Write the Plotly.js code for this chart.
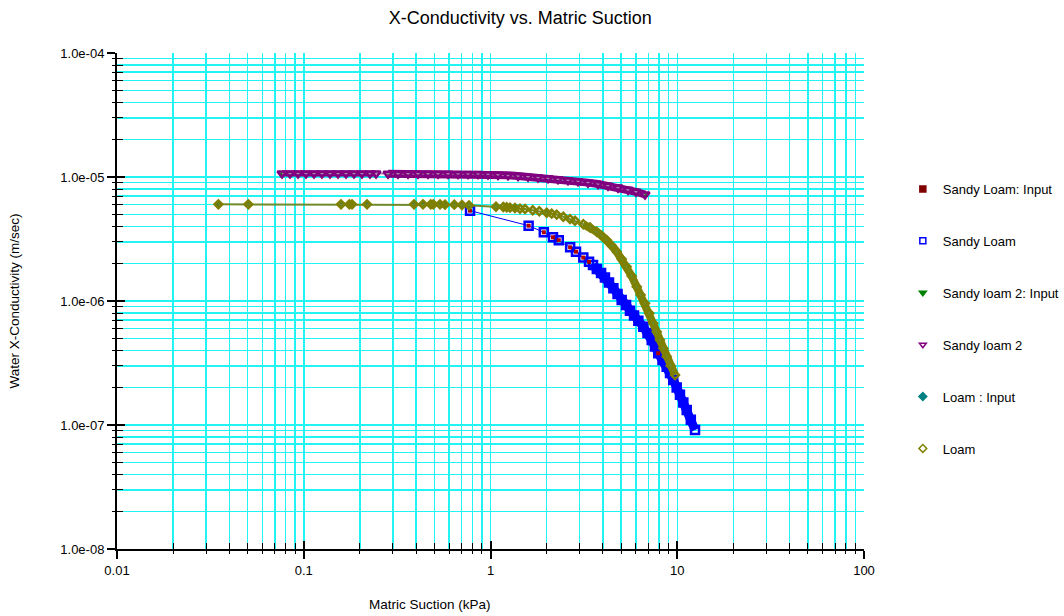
<!DOCTYPE html>
<html>
<head>
<meta charset="utf-8">
<script src="https://cdn.plot.ly/plotly-3.0.1.min.js"></script>
<style>html,body{margin:0;padding:0;background:#fff;}#chart{width:1064px;height:616px;}</style>
</head>
<body>
<div id="chart"></div>
<script>
// ---- Data ----
const seriesNames = ["Sandy Loam: Input", "Sandy Loam", "Sandy loam 2: Input", "Sandy loam 2", "Loam : Input", "Loam"];

const xSandyLoam = [0.777, 1.60, 1.93, 2.16, 2.32, 2.67, 2.87, 3.14, 3.37, 3.54, 3.71, 3.91, 4.10, 4.31, 4.55, 4.79, 5.04, 5.32, 5.58, 5.87, 6.19, 6.58, 6.93, 7.30, 7.60, 7.91, 8.34, 8.78, 9.15, 9.52, 9.93, 10.34, 10.78, 11.24, 11.82, 12.45];
const ySandyLoam = [5.35e-6, 4.05e-6, 3.58e-6, 3.26e-6, 3.09e-6, 2.71e-6, 2.50e-6, 2.24e-6, 2.07e-6, 1.95e-6, 1.81e-6, 1.68e-6, 1.55e-6, 1.41e-6, 1.27e-6, 1.14e-6, 1.02e-6, 9.28e-7, 8.35e-7, 7.64e-7, 6.94e-7, 6.21e-7, 5.52e-7, 4.85e-7, 4.29e-7, 3.79e-7, 3.34e-7, 2.95e-7, 2.63e-7, 2.31e-7, 2.01e-7, 1.75e-7, 1.52e-7, 1.32e-7, 1.10e-7, 9.1e-8];

const xSandyLoamInput = [0.777, 1.60, 1.93, 2.16, 2.32, 2.67, 2.87, 3.14, 3.37, 7.91];
const ySandyLoamInput = [5.35e-6, 4.05e-6, 3.58e-6, 3.26e-6, 3.09e-6, 2.71e-6, 2.50e-6, 2.24e-6, 2.07e-6, 3.79e-7];

const xSandyLoam2 = [0.0765, 0.0844, 0.0932, 0.1028, 0.1135, 0.1252, 0.1382, 0.1526, 0.1684, 0.1858, 0.2050, 0.2263, 0.2437, 0.2826, 0.3197, 0.3617, 0.4091, 0.4628, 0.5236, 0.5923, 0.6699, 0.7578, 0.8573, 0.9696, 1.097, 1.241, 1.404, 1.588, 1.796, 2.032, 2.298, 2.600, 2.941, 3.327, 3.763, 4.258, 4.816, 5.448, 6.013, 6.719];
const ySandyLoam2 = [1.067e-5, 1.067e-5, 1.067e-5, 1.067e-5, 1.067e-5, 1.067e-5, 1.067e-5, 1.067e-5, 1.067e-5, 1.067e-5, 1.067e-5, 1.067e-5, 1.067e-5, 1.063e-5, 1.063e-5, 1.063e-5, 1.063e-5, 1.063e-5, 1.063e-5, 1.063e-5, 1.057e-5, 1.057e-5, 1.057e-5, 1.050e-5, 1.041e-5, 1.032e-5, 1.019e-5, 1.006e-5, 9.91e-6, 9.76e-6, 9.60e-6, 9.42e-6, 9.23e-6, 9.01e-6, 8.78e-6, 8.52e-6, 8.21e-6, 7.88e-6, 7.60e-6, 7.23e-6];

const xSandyLoam2Input = [0.0765, 0.1028, 0.1382, 0.2050, 0.2826, 0.4091, 0.5923, 0.8573, 1.241, 1.796, 2.600, 3.763, 5.448, 6.719];
const ySandyLoam2Input = [1.067e-5, 1.067e-5, 1.067e-5, 1.067e-5, 1.063e-5, 1.063e-5, 1.063e-5, 1.057e-5, 1.032e-5, 9.91e-6, 9.42e-6, 8.78e-6, 7.88e-6, 7.23e-6];

const xLoam = [0.0349, 0.0505, 0.1583, 0.1754, 0.1813, 0.2182, 0.3894, 0.435, 0.4784, 0.494, 0.5366, 0.5706, 0.640, 0.7036, 0.767, 1.070, 1.171, 1.221, 1.272, 1.352, 1.439, 1.530, 1.683, 1.825, 2.0, 2.127, 2.262, 2.454, 2.666, 2.835, 3.14, 3.41, 3.705, 3.94, 4.19, 4.46, 4.74, 5.04, 5.36, 5.70, 6.07, 6.37, 6.72, 7.08, 7.44, 7.76, 8.08, 8.42, 8.78, 9.22, 9.73];
const yLoam = [6.02e-6, 6.02e-6, 6.02e-6, 6.02e-6, 6.02e-6, 6.02e-6, 6.02e-6, 6.02e-6, 6.02e-6, 6.02e-6, 6.02e-6, 5.98e-6, 5.98e-6, 5.95e-6, 5.91e-6, 5.76e-6, 5.73e-6, 5.70e-6, 5.66e-6, 5.62e-6, 5.55e-6, 5.52e-6, 5.39e-6, 5.29e-6, 5.15e-6, 5.06e-6, 4.97e-6, 4.78e-6, 4.58e-6, 4.44e-6, 4.16e-6, 3.93e-6, 3.62e-6, 3.36e-6, 3.10e-6, 2.79e-6, 2.50e-6, 2.18e-6, 1.89e-6, 1.59e-6, 1.30e-6, 1.12e-6, 9.58e-7, 7.96e-7, 6.61e-7, 5.65e-7, 4.85e-7, 4.15e-7, 3.56e-7, 3.01e-7, 2.53e-7];

const xLoamInput = [0.0349, 0.0505, 0.1583, 0.1754, 0.1813, 0.2182, 0.3894, 0.435, 0.4784, 0.494, 0.5366, 0.5706, 0.640, 0.7036, 0.767, 1.070, 1.352, 2.0];
const yLoamInput = [6.02e-6, 6.02e-6, 6.02e-6, 6.02e-6, 6.02e-6, 6.02e-6, 6.02e-6, 6.02e-6, 6.02e-6, 6.02e-6, 6.02e-6, 5.98e-6, 5.98e-6, 5.95e-6, 5.91e-6, 5.76e-6, 5.62e-6, 5.15e-6];

// ---- Tick labels ----
const xTickVals = [0.01, 0.1, 1, 10, 100];
const xTickText = ["0.01", "0.1", "1", "10", "100"];
const yTickVals = [1e-8, 1e-7, 1e-6, 1e-5, 1e-4];
const yTickText = ["1.0e-08", "1.0e-07", "1.0e-06", "1.0e-05", "1.0e-04"];
const xMinorVals = [0.02,0.03,0.04,0.05,0.06,0.07,0.08,0.09, 0.2,0.3,0.4,0.5,0.6,0.7,0.8,0.9, 2,3,4,5,6,7,8,9, 20,30,40,50,60,70,80,90];
const yMinorVals = [2e-8,3e-8,4e-8,5e-8,6e-8,7e-8,8e-8,9e-8, 2e-7,3e-7,4e-7,5e-7,6e-7,7e-7,8e-7,9e-7, 2e-6,3e-6,4e-6,5e-6,6e-6,7e-6,8e-6,9e-6, 2e-5,3e-5,4e-5,5e-5,6e-5,7e-5,8e-5,9e-5];

// ---- Styles ----
const FONT = "Liberation Sans, Arial, sans-serif";
const GRID = "#22f4f4";
const colors = {
  slInput: "#800000", sl: "#0000ff", sl2Input: "#008000", sl2: "#800080", loamInput: "#008080", loam: "#808000"
};
const legendSymbols = ["square", "square-open", "triangle-down", "triangle-down-open", "diamond", "diamond-open"];
const legendColors = [colors.slInput, colors.sl, colors.sl2Input, colors.sl2, colors.loamInput, colors.loam];

const traces = [];
// Legend entries (marker only)
seriesNames.forEach((n, i) => {
  traces.push({
    x: [null], y: [null], type: "scatter", mode: "markers", name: n,
    legendgroup: "g" + i, showlegend: true,
    marker: {symbol: legendSymbols[i], color: legendColors[i], size: 6, line: {color: legendColors[i], width: 1.5}}
  });
});

// Sandy Loam: dense part drawn as a solid band of overlapping markers
traces.push({
  x: xSandyLoam.slice(9), y: ySandyLoam.slice(9), type: "scatter", mode: "lines", showlegend: false, hoverinfo: "skip",
  line: {color: colors.sl, width: 9}
});
traces.push({
  x: xSandyLoam, y: ySandyLoam, type: "scatter", mode: "lines+markers", showlegend: false,
  line: {color: colors.sl, width: 1},
  marker: {symbol: "square-open", color: colors.sl, size: 8, line: {color: colors.sl, width: 2.5}}
});
traces.push({
  x: xSandyLoamInput, y: ySandyLoamInput, type: "scatter", mode: "markers", showlegend: false,
  marker: {symbol: "square", color: "#b00000", size: 4}
});
// Sandy loam 2
traces.push({
  x: xSandyLoam2Input, y: ySandyLoam2Input, type: "scatter", mode: "markers", showlegend: false,
  marker: {symbol: "triangle-down", color: colors.sl2Input, size: 5}
});
traces.push({
  x: xSandyLoam2.slice(0, 13), y: ySandyLoam2.slice(0, 13), type: "scatter", mode: "lines", showlegend: false, hoverinfo: "skip",
  line: {color: colors.sl2, width: 6}
});
traces.push({
  x: xSandyLoam2.slice(13), y: ySandyLoam2.slice(13), type: "scatter", mode: "lines", showlegend: false, hoverinfo: "skip",
  line: {color: colors.sl2, width: 8}
});
traces.push({
  x: xSandyLoam2, y: ySandyLoam2, type: "scatter", mode: "lines+markers", showlegend: false,
  line: {color: "#a888a8", width: 1.5},
  marker: {symbol: "triangle-down-open", color: colors.sl2, size: 8, line: {color: colors.sl2, width: 2.5}}
});
// Loam
traces.push({
  x: xLoamInput, y: yLoamInput, type: "scatter", mode: "markers", showlegend: false,
  marker: {symbol: "diamond", color: "#4f7a3a", size: 5}
});
traces.push({
  x: xLoam.slice(30), y: yLoam.slice(30), type: "scatter", mode: "lines", showlegend: false, hoverinfo: "skip",
  line: {color: colors.loam, width: 8}
});
traces.push({
  x: xLoam, y: yLoam, type: "scatter", mode: "lines+markers", showlegend: false,
  line: {color: "#6f8a2a", width: 2},
  marker: {symbol: "diamond-open", color: colors.loam, size: 6, line: {color: colors.loam, width: 2.5}}
});
// Overlay subplot for inside tick marks
traces.push({x: [null], y: [null], xaxis: "x2", yaxis: "y2", type: "scatter", mode: "markers", showlegend: false, hoverinfo: "skip"});

const layout = {
  width: 1064, height: 616,
  paper_bgcolor: "#ffffff", plot_bgcolor: "#ffffff",
  font: {family: FONT, size: 13, color: "#000"},
  margin: {l: 117, r: 200, t: 53, b: 67, pad: 0, autoexpand: false},
  showlegend: true,
  title: {text: "X-Conductivity vs. Matric Suction", font: {family: FONT, size: 18, color: "#000"},
          x: 0.489, xanchor: "center", xref: "container", y: 0.971, yanchor: "middle", yref: "container"},
  xaxis: {
    type: "log", range: [-2, 2], autorange: false,
    tickmode: "array", tickvals: xTickVals, ticktext: xTickText,
    tickfont: {family: FONT, size: 13, color: "#000"},
    ticks: "outside", ticklen: 8, tickwidth: 2, tickcolor: "#000",
    showline: true, linecolor: "#000", linewidth: 2, mirror: false,
    showgrid: true, gridcolor: GRID, gridwidth: 1.5, zeroline: false,
    minor: {tickmode: "array", tickvals: xMinorVals, ticks: "outside", ticklen: 3, tickwidth: 1, tickcolor: "#000", showgrid: true, gridcolor: GRID, gridwidth: 1.5},
    automargin: false
  },
  yaxis: {
    type: "log", range: [-8, -4], autorange: false,
    tickmode: "array", tickvals: yTickVals, ticktext: yTickText,
    tickfont: {family: FONT, size: 13, color: "#000"},
    ticks: "outside", ticklen: 8, tickwidth: 2, tickcolor: "#000",
    showline: true, linecolor: "#000", linewidth: 2, mirror: false,
    showgrid: true, gridcolor: GRID, gridwidth: 1.5, zeroline: false,
    minor: {tickmode: "array", tickvals: yMinorVals, ticks: "outside", ticklen: 3, tickwidth: 1, tickcolor: "#000", showgrid: true, gridcolor: GRID, gridwidth: 1.5},
    title: {text: "Water X-Conductivity (m/sec)", font: {family: FONT, size: 13.5, color: "#000"}, standoff: 38},
    automargin: false
  },
  xaxis2: {
    type: "log", range: [-2, 2], autorange: false, overlaying: "x", anchor: "y2", side: "bottom",
    tickmode: "array", tickvals: xTickVals, showticklabels: false,
    ticks: "inside", ticklen: 8, tickwidth: 2, tickcolor: "#000",
    showgrid: false, gridcolor: GRID, showline: false, zeroline: false,
    minor: {tickmode: "array", tickvals: xMinorVals, ticks: "inside", ticklen: 6, tickwidth: 1, tickcolor: "#000", showgrid: false, gridcolor: GRID}
  },
  yaxis2: {
    type: "log", range: [-8, -4], autorange: false, overlaying: "y", anchor: "x2", side: "left",
    tickmode: "array", tickvals: yTickVals, showticklabels: false,
    ticks: "inside", ticklen: 8, tickwidth: 2, tickcolor: "#000",
    showgrid: false, gridcolor: GRID, showline: false, zeroline: false,
    minor: {tickmode: "array", tickvals: yMinorVals, ticks: "inside", ticklen: 6, tickwidth: 1, tickcolor: "#000", showgrid: false, gridcolor: GRID}
  },
  legend: {
    x: 1.052, xanchor: "left", y: 0.756, yanchor: "top",
    font: {family: FONT, size: 13, color: "#000"},
    bgcolor: "rgba(0,0,0,0)", borderwidth: 0,
    tracegroupgap: 32, traceorder: "grouped", itemclick: false
  },
  annotations: [{
    text: "Matric Suction (kPa)", xref: "paper", yref: "paper", x: 0.419, y: -0.111,
    xanchor: "center", yanchor: "middle", showarrow: false,
    font: {family: FONT, size: 13.5, color: "#000"}
  }]
};

Plotly.newPlot("chart", traces, layout, {staticPlot: true, displayModeBar: false});
</script>
</body>
</html>
